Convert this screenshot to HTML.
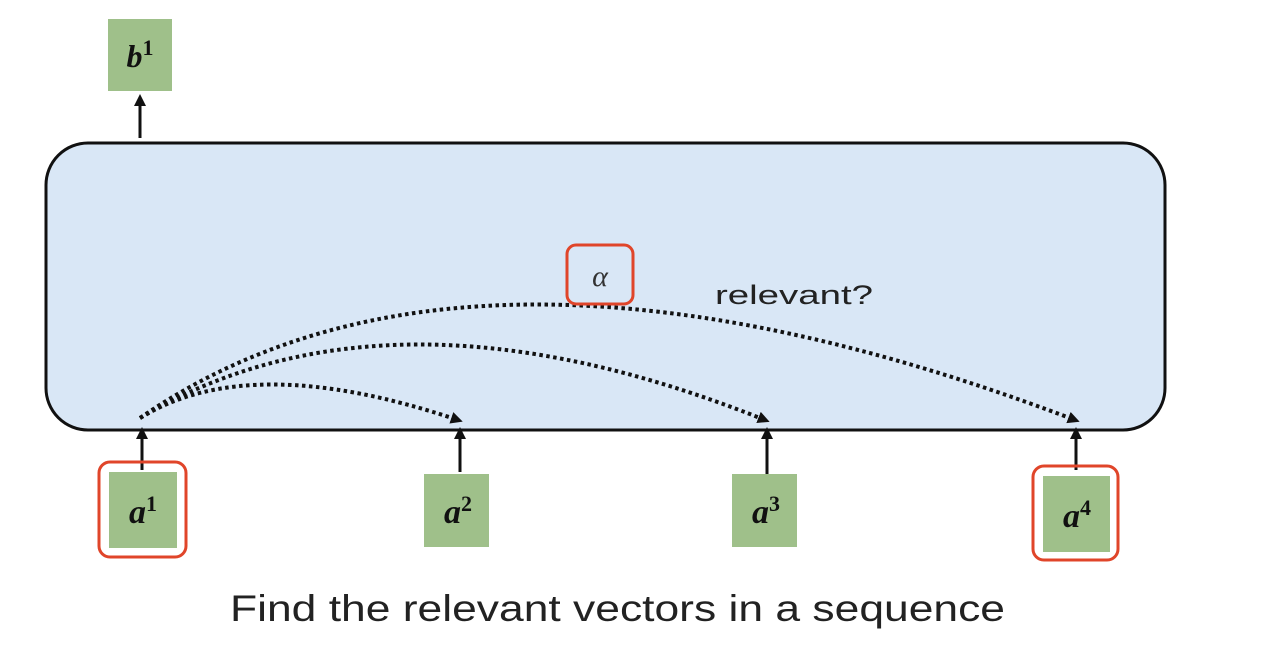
<!DOCTYPE html>
<html><head><meta charset="utf-8"><style>
html,body{margin:0;padding:0;background:#fff;}
svg{display:block;}
.m{font-family:"Liberation Serif",serif;font-weight:bold;font-style:italic;fill:#111;}
.s{font-style:normal;}
</style></head><body>
<svg width="1287" height="653" viewBox="0 0 1287 653" xmlns="http://www.w3.org/2000/svg">
<defs>
<marker id="ah" markerWidth="12" markerHeight="12" refX="7" refY="6" orient="auto" markerUnits="userSpaceOnUse">
<path d="M0,0 L12,6 L0,12 z" fill="#111"/></marker>
<marker id="au" markerWidth="12" markerHeight="12" refX="6" refY="6" orient="auto" markerUnits="userSpaceOnUse">
<path d="M0,0 L12,6 L0,12 z" fill="#111"/></marker>
</defs>
<rect width="1287" height="653" fill="#fff"/>
<rect x="46" y="143" width="1119" height="287" rx="42" fill="#d9e7f6" stroke="#111" stroke-width="3"/>
<rect x="108" y="19" width="64" height="72" fill="#9fc08a"/>
<text x="140" y="67" class="m" font-size="32" text-anchor="middle">b<tspan class="s" font-size="22" dy="-12">1</tspan></text>
<line x1="140" y1="138" x2="140" y2="100" stroke="#111" stroke-width="3" marker-end="url(#au)"/>
<line x1="142" y1="470" x2="142" y2="433" stroke="#111" stroke-width="3" marker-end="url(#au)"/>
<line x1="460" y1="472" x2="460" y2="433" stroke="#111" stroke-width="3" marker-end="url(#au)"/>
<line x1="767" y1="474" x2="767" y2="433" stroke="#111" stroke-width="3" marker-end="url(#au)"/>
<line x1="1076" y1="470" x2="1076" y2="433" stroke="#111" stroke-width="3" marker-end="url(#au)"/>
<g fill="none" stroke="#111" stroke-width="4" stroke-dasharray="3.5 3.5">
<path d="M140,418 Q250,350 458,420" marker-end="url(#ah)"/>
<path d="M140,418 Q390,270 765,420" marker-end="url(#ah)"/>
<path d="M140,418 Q470,190 1075,420" marker-end="url(#ah)"/>
</g>
<rect x="567" y="245" width="66" height="59" rx="9" fill="none" stroke="#e0452a" stroke-width="3"/>
<text x="600" y="286" font-family="Liberation Serif,serif" font-style="italic" font-size="30" fill="#333" text-anchor="middle">α</text>
<text x="715" y="304" font-family="Liberation Sans,sans-serif" font-size="27" fill="#222" textLength="158" lengthAdjust="spacingAndGlyphs">relevant?</text>
<rect x="109" y="472" width="68" height="76" fill="#9fc08a"/>
<rect x="99" y="462" width="87" height="95" rx="11" fill="none" stroke="#e0452a" stroke-width="3"/>
<text x="143" y="523" class="m" font-size="34" text-anchor="middle">a<tspan class="s" font-size="22" dy="-12">1</tspan></text>
<rect x="424" y="474" width="65" height="73" fill="#9fc08a"/>
<text x="458" y="523" class="m" font-size="34" text-anchor="middle">a<tspan class="s" font-size="22" dy="-12">2</tspan></text>
<rect x="732" y="474" width="65" height="73" fill="#9fc08a"/>
<text x="766" y="523" class="m" font-size="34" text-anchor="middle">a<tspan class="s" font-size="22" dy="-12">3</tspan></text>
<rect x="1043" y="476" width="67" height="76" fill="#9fc08a"/>
<rect x="1033" y="466" width="85" height="94" rx="11" fill="none" stroke="#e0452a" stroke-width="3"/>
<text x="1077" y="527" class="m" font-size="34" text-anchor="middle">a<tspan class="s" font-size="22" dy="-12">4</tspan></text>
<text x="230" y="621" font-family="Liberation Sans,sans-serif" font-size="37" fill="#222" textLength="775" lengthAdjust="spacingAndGlyphs">Find the relevant vectors in a sequence</text>
</svg>
</body></html>
